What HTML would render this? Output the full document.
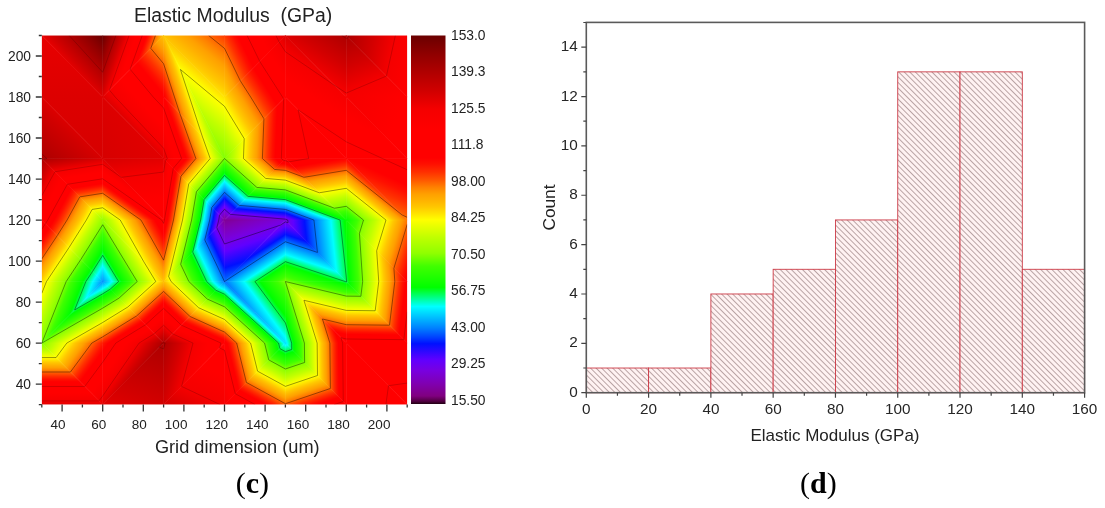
<!DOCTYPE html>
<html><head><meta charset="utf-8"><title>Elastic modulus map and histogram</title><style>html,body{margin:0;padding:0;background:#fff;}body{width:1105px;height:508px;overflow:hidden;}svg{display:block;font-family:"Liberation Sans",sans-serif;will-change:transform;filter:blur(0.4px);}</style></head><body>
<svg width="1105" height="508" viewBox="0 0 1105 508" font-family="Liberation Sans, sans-serif">
<defs><linearGradient id="g0" gradientUnits="userSpaceOnUse" x1="224.50" y1="97.01" x2="254.61" y2="59.95"><stop offset="0.0000" stop-color="#ffe200"/><stop offset="0.1538" stop-color="#ffc800"/><stop offset="0.3497" stop-color="#ffb000"/><stop offset="0.4965" stop-color="#ffa000"/><stop offset="0.6783" stop-color="#ff8000"/><stop offset="0.8601" stop-color="#ff5800"/><stop offset="1.0000" stop-color="#ff3d00"/></linearGradient><linearGradient id="g1" gradientUnits="userSpaceOnUse" x1="224.50" y1="158.53" x2="260.00" y2="116.04"><stop offset="0.0000" stop-color="#7bff00"/><stop offset="0.0684" stop-color="#90ff00"/><stop offset="0.3789" stop-color="#c0ff00"/><stop offset="0.7237" stop-color="#ffff00"/><stop offset="0.7895" stop-color="#fff000"/><stop offset="0.9684" stop-color="#ffc800"/><stop offset="1.0000" stop-color="#ffc300"/></linearGradient><linearGradient id="g2" gradientUnits="userSpaceOnUse" x1="224.50" y1="158.53" x2="187.66" y2="170.58"><stop offset="0.0000" stop-color="#7bff00"/><stop offset="0.0347" stop-color="#90ff00"/><stop offset="0.1920" stop-color="#c0ff00"/><stop offset="0.3667" stop-color="#ffff00"/><stop offset="0.4000" stop-color="#fff000"/><stop offset="0.4907" stop-color="#ffc800"/><stop offset="0.5653" stop-color="#ffb000"/><stop offset="0.6213" stop-color="#ffa000"/><stop offset="0.6907" stop-color="#ff8000"/><stop offset="0.7600" stop-color="#ff5800"/><stop offset="0.8400" stop-color="#ff3000"/><stop offset="0.9200" stop-color="#ff1000"/><stop offset="0.9813" stop-color="#ff0000"/><stop offset="1.0000" stop-color="#ff0000"/></linearGradient><linearGradient id="g3" gradientUnits="userSpaceOnUse" x1="224.50" y1="158.53" x2="170.43" y2="177.74"><stop offset="0.0000" stop-color="#7bff00"/><stop offset="0.0222" stop-color="#90ff00"/><stop offset="0.1231" stop-color="#c0ff00"/><stop offset="0.2350" stop-color="#ffff00"/><stop offset="0.2564" stop-color="#fff000"/><stop offset="0.3145" stop-color="#ffc800"/><stop offset="0.3624" stop-color="#ffb000"/><stop offset="0.3983" stop-color="#ffa000"/><stop offset="0.4427" stop-color="#ff8000"/><stop offset="0.4872" stop-color="#ff5800"/><stop offset="0.5385" stop-color="#ff3000"/><stop offset="0.5897" stop-color="#ff1000"/><stop offset="0.6291" stop-color="#ff0000"/><stop offset="0.8120" stop-color="#ff0000"/><stop offset="0.9402" stop-color="#f50000"/><stop offset="1.0000" stop-color="#e20000"/></linearGradient><linearGradient id="g4" gradientUnits="userSpaceOnUse" x1="41.80" y1="343.08" x2="41.80" y2="404.60"><stop offset="0.0000" stop-color="#7bff00"/><stop offset="0.0222" stop-color="#90ff00"/><stop offset="0.1231" stop-color="#c0ff00"/><stop offset="0.2350" stop-color="#ffff00"/><stop offset="0.2564" stop-color="#fff000"/><stop offset="0.3145" stop-color="#ffc800"/><stop offset="0.3624" stop-color="#ffb000"/><stop offset="0.3983" stop-color="#ffa000"/><stop offset="0.4427" stop-color="#ff8000"/><stop offset="0.4872" stop-color="#ff5800"/><stop offset="0.5385" stop-color="#ff3000"/><stop offset="0.5897" stop-color="#ff1000"/><stop offset="0.6291" stop-color="#ff0000"/><stop offset="0.8120" stop-color="#ff0000"/><stop offset="0.9402" stop-color="#f50000"/><stop offset="1.0000" stop-color="#e20000"/></linearGradient><linearGradient id="g5" gradientUnits="userSpaceOnUse" x1="41.80" y1="343.08" x2="110.60" y2="393.91"><stop offset="0.0000" stop-color="#7bff00"/><stop offset="0.0222" stop-color="#90ff00"/><stop offset="0.1231" stop-color="#c0ff00"/><stop offset="0.2350" stop-color="#ffff00"/><stop offset="0.2564" stop-color="#fff000"/><stop offset="0.3145" stop-color="#ffc800"/><stop offset="0.3624" stop-color="#ffb000"/><stop offset="0.3983" stop-color="#ffa000"/><stop offset="0.4427" stop-color="#ff8000"/><stop offset="0.4872" stop-color="#ff5800"/><stop offset="0.5385" stop-color="#ff3000"/><stop offset="0.5897" stop-color="#ff1000"/><stop offset="0.6291" stop-color="#ff0000"/><stop offset="0.8120" stop-color="#ff0000"/><stop offset="0.9402" stop-color="#f50000"/><stop offset="1.0000" stop-color="#e20000"/></linearGradient><linearGradient id="g6" gradientUnits="userSpaceOnUse" x1="102.70" y1="404.60" x2="130.72" y2="330.63"><stop offset="0.0000" stop-color="#e20000"/><stop offset="0.2727" stop-color="#d20000"/><stop offset="0.9364" stop-color="#b00000"/><stop offset="1.0000" stop-color="#ad0000"/></linearGradient><linearGradient id="g7" gradientUnits="userSpaceOnUse" x1="102.70" y1="343.08" x2="144.06" y2="371.51"><stop offset="0.0000" stop-color="#ff1b00"/><stop offset="0.0278" stop-color="#ff1000"/><stop offset="0.0917" stop-color="#ff0000"/><stop offset="0.3889" stop-color="#ff0000"/><stop offset="0.5972" stop-color="#f50000"/><stop offset="0.7778" stop-color="#d20000"/><stop offset="0.9806" stop-color="#b00000"/><stop offset="1.0000" stop-color="#ad0000"/></linearGradient><linearGradient id="g8" gradientUnits="userSpaceOnUse" x1="224.50" y1="343.08" x2="189.70" y2="416.90"><stop offset="0.0000" stop-color="#ff0000"/><stop offset="0.3636" stop-color="#ff0000"/><stop offset="0.7045" stop-color="#f50000"/><stop offset="1.0000" stop-color="#d20000"/></linearGradient><linearGradient id="g9" gradientUnits="userSpaceOnUse" x1="224.50" y1="343.08" x2="167.57" y2="328.05"><stop offset="0.0000" stop-color="#ff0000"/><stop offset="0.2667" stop-color="#ff0000"/><stop offset="0.5167" stop-color="#f50000"/><stop offset="0.7333" stop-color="#d20000"/><stop offset="0.9767" stop-color="#b00000"/><stop offset="1.0000" stop-color="#ad0000"/></linearGradient><linearGradient id="g10" gradientUnits="userSpaceOnUse" x1="285.40" y1="343.08" x2="245.57" y2="416.09"><stop offset="0.0000" stop-color="#00e1ff"/><stop offset="0.0253" stop-color="#00ffff"/><stop offset="0.0720" stop-color="#00ff80"/><stop offset="0.1200" stop-color="#00ff00"/><stop offset="0.2253" stop-color="#40ff00"/><stop offset="0.2907" stop-color="#90ff00"/><stop offset="0.3693" stop-color="#c0ff00"/><stop offset="0.4567" stop-color="#ffff00"/><stop offset="0.4733" stop-color="#fff000"/><stop offset="0.5187" stop-color="#ffc800"/><stop offset="0.5560" stop-color="#ffb000"/><stop offset="0.5840" stop-color="#ffa000"/><stop offset="0.6187" stop-color="#ff8000"/><stop offset="0.6533" stop-color="#ff5800"/><stop offset="0.6933" stop-color="#ff3000"/><stop offset="0.7333" stop-color="#ff1000"/><stop offset="0.7640" stop-color="#ff0000"/><stop offset="0.9067" stop-color="#ff0000"/><stop offset="1.0000" stop-color="#f60000"/></linearGradient><linearGradient id="g11" gradientUnits="userSpaceOnUse" x1="285.40" y1="343.08" x2="213.67" y2="360.83"><stop offset="0.0000" stop-color="#00e1ff"/><stop offset="0.0253" stop-color="#00ffff"/><stop offset="0.0720" stop-color="#00ff80"/><stop offset="0.1200" stop-color="#00ff00"/><stop offset="0.2253" stop-color="#40ff00"/><stop offset="0.2907" stop-color="#90ff00"/><stop offset="0.3693" stop-color="#c0ff00"/><stop offset="0.4567" stop-color="#ffff00"/><stop offset="0.4733" stop-color="#fff000"/><stop offset="0.5187" stop-color="#ffc800"/><stop offset="0.5560" stop-color="#ffb000"/><stop offset="0.5840" stop-color="#ffa000"/><stop offset="0.6187" stop-color="#ff8000"/><stop offset="0.6533" stop-color="#ff5800"/><stop offset="0.6933" stop-color="#ff3000"/><stop offset="0.7333" stop-color="#ff1000"/><stop offset="0.7640" stop-color="#ff0000"/><stop offset="0.9067" stop-color="#ff0000"/><stop offset="1.0000" stop-color="#f60000"/></linearGradient><linearGradient id="g12" gradientUnits="userSpaceOnUse" x1="285.40" y1="343.08" x2="310.31" y2="416.77"><stop offset="0.0000" stop-color="#00e1ff"/><stop offset="0.0292" stop-color="#00ffff"/><stop offset="0.0831" stop-color="#00ff80"/><stop offset="0.1385" stop-color="#00ff00"/><stop offset="0.2600" stop-color="#40ff00"/><stop offset="0.3354" stop-color="#90ff00"/><stop offset="0.4262" stop-color="#c0ff00"/><stop offset="0.5269" stop-color="#ffff00"/><stop offset="0.5462" stop-color="#fff000"/><stop offset="0.5985" stop-color="#ffc800"/><stop offset="0.6415" stop-color="#ffb000"/><stop offset="0.6738" stop-color="#ffa000"/><stop offset="0.7138" stop-color="#ff8000"/><stop offset="0.7538" stop-color="#ff5800"/><stop offset="0.8000" stop-color="#ff3000"/><stop offset="0.8462" stop-color="#ff1000"/><stop offset="0.8815" stop-color="#ff0000"/><stop offset="1.0000" stop-color="#ff0000"/></linearGradient><linearGradient id="g13" gradientUnits="userSpaceOnUse" x1="285.40" y1="343.08" x2="346.29" y2="342.44"><stop offset="0.0000" stop-color="#00e1ff"/><stop offset="0.0289" stop-color="#00ffff"/><stop offset="0.0822" stop-color="#00ff80"/><stop offset="0.1370" stop-color="#00ff00"/><stop offset="0.2572" stop-color="#40ff00"/><stop offset="0.3318" stop-color="#90ff00"/><stop offset="0.4216" stop-color="#c0ff00"/><stop offset="0.5213" stop-color="#ffff00"/><stop offset="0.5403" stop-color="#fff000"/><stop offset="0.5921" stop-color="#ffc800"/><stop offset="0.6347" stop-color="#ffb000"/><stop offset="0.6667" stop-color="#ffa000"/><stop offset="0.7062" stop-color="#ff8000"/><stop offset="0.7458" stop-color="#ff5800"/><stop offset="0.7915" stop-color="#ff3000"/><stop offset="0.8371" stop-color="#ff1000"/><stop offset="0.8721" stop-color="#ff0000"/><stop offset="1.0000" stop-color="#ff0000"/></linearGradient><linearGradient id="g14" gradientUnits="userSpaceOnUse" x1="407.20" y1="404.60" x2="339.08" y2="395.16"><stop offset="0.0000" stop-color="#ff0000"/><stop offset="1.0000" stop-color="#ff0000"/></linearGradient><linearGradient id="g15" gradientUnits="userSpaceOnUse" x1="407.20" y1="404.60" x2="397.48" y2="335.84"><stop offset="0.0000" stop-color="#ff0000"/><stop offset="1.0000" stop-color="#ff0000"/></linearGradient><linearGradient id="g16" gradientUnits="userSpaceOnUse" x1="102.70" y1="281.56" x2="129.25" y2="327.85"><stop offset="0.0000" stop-color="#0093ff"/><stop offset="0.0492" stop-color="#00c0ff"/><stop offset="0.1169" stop-color="#00ffff"/><stop offset="0.1763" stop-color="#00ff80"/><stop offset="0.2373" stop-color="#00ff00"/><stop offset="0.3712" stop-color="#40ff00"/><stop offset="0.4542" stop-color="#90ff00"/><stop offset="0.5542" stop-color="#c0ff00"/><stop offset="0.6653" stop-color="#ffff00"/><stop offset="0.6864" stop-color="#fff000"/><stop offset="0.7441" stop-color="#ffc800"/><stop offset="0.7915" stop-color="#ffb000"/><stop offset="0.8271" stop-color="#ffa000"/><stop offset="0.8712" stop-color="#ff8000"/><stop offset="0.9153" stop-color="#ff5800"/><stop offset="0.9661" stop-color="#ff3000"/><stop offset="1.0000" stop-color="#ff1b00"/></linearGradient><linearGradient id="g17" gradientUnits="userSpaceOnUse" x1="102.70" y1="281.56" x2="50.05" y2="260.72"><stop offset="0.0000" stop-color="#0093ff"/><stop offset="0.0682" stop-color="#00c0ff"/><stop offset="0.1624" stop-color="#00ffff"/><stop offset="0.2447" stop-color="#00ff80"/><stop offset="0.3294" stop-color="#00ff00"/><stop offset="0.5153" stop-color="#40ff00"/><stop offset="0.6306" stop-color="#90ff00"/><stop offset="0.7694" stop-color="#c0ff00"/><stop offset="0.9235" stop-color="#ffff00"/><stop offset="0.9529" stop-color="#fff000"/><stop offset="1.0000" stop-color="#ffd800"/></linearGradient><linearGradient id="g18" gradientUnits="userSpaceOnUse" x1="102.70" y1="281.56" x2="146.94" y2="353.35"><stop offset="0.0000" stop-color="#0093ff"/><stop offset="0.0305" stop-color="#00c0ff"/><stop offset="0.0726" stop-color="#00ffff"/><stop offset="0.1095" stop-color="#00ff80"/><stop offset="0.1474" stop-color="#00ff00"/><stop offset="0.2305" stop-color="#40ff00"/><stop offset="0.2821" stop-color="#90ff00"/><stop offset="0.3442" stop-color="#c0ff00"/><stop offset="0.4132" stop-color="#ffff00"/><stop offset="0.4263" stop-color="#fff000"/><stop offset="0.4621" stop-color="#ffc800"/><stop offset="0.4916" stop-color="#ffb000"/><stop offset="0.5137" stop-color="#ffa000"/><stop offset="0.5411" stop-color="#ff8000"/><stop offset="0.5684" stop-color="#ff5800"/><stop offset="0.6000" stop-color="#ff3000"/><stop offset="0.6316" stop-color="#ff1000"/><stop offset="0.6558" stop-color="#ff0000"/><stop offset="0.7684" stop-color="#ff0000"/><stop offset="0.8474" stop-color="#f50000"/><stop offset="0.9158" stop-color="#d20000"/><stop offset="0.9926" stop-color="#b00000"/><stop offset="1.0000" stop-color="#ad0000"/></linearGradient><linearGradient id="g19" gradientUnits="userSpaceOnUse" x1="102.70" y1="281.56" x2="160.88" y2="345.56"><stop offset="0.0000" stop-color="#0093ff"/><stop offset="0.0305" stop-color="#00c0ff"/><stop offset="0.0726" stop-color="#00ffff"/><stop offset="0.1095" stop-color="#00ff80"/><stop offset="0.1474" stop-color="#00ff00"/><stop offset="0.2305" stop-color="#40ff00"/><stop offset="0.2821" stop-color="#90ff00"/><stop offset="0.3442" stop-color="#c0ff00"/><stop offset="0.4132" stop-color="#ffff00"/><stop offset="0.4263" stop-color="#fff000"/><stop offset="0.4621" stop-color="#ffc800"/><stop offset="0.4916" stop-color="#ffb000"/><stop offset="0.5137" stop-color="#ffa000"/><stop offset="0.5411" stop-color="#ff8000"/><stop offset="0.5684" stop-color="#ff5800"/><stop offset="0.6000" stop-color="#ff3000"/><stop offset="0.6316" stop-color="#ff1000"/><stop offset="0.6558" stop-color="#ff0000"/><stop offset="0.7684" stop-color="#ff0000"/><stop offset="0.8474" stop-color="#f50000"/><stop offset="0.9158" stop-color="#d20000"/><stop offset="0.9926" stop-color="#b00000"/><stop offset="1.0000" stop-color="#ad0000"/></linearGradient><linearGradient id="g20" gradientUnits="userSpaceOnUse" x1="224.50" y1="281.56" x2="191.06" y2="355.50"><stop offset="0.0000" stop-color="#0071ff"/><stop offset="0.0082" stop-color="#0080ff"/><stop offset="0.0505" stop-color="#00c0ff"/><stop offset="0.0918" stop-color="#00ffff"/><stop offset="0.1278" stop-color="#00ff80"/><stop offset="0.1649" stop-color="#00ff00"/><stop offset="0.2464" stop-color="#40ff00"/><stop offset="0.2969" stop-color="#90ff00"/><stop offset="0.3577" stop-color="#c0ff00"/><stop offset="0.4253" stop-color="#ffff00"/><stop offset="0.4381" stop-color="#fff000"/><stop offset="0.4732" stop-color="#ffc800"/><stop offset="0.5021" stop-color="#ffb000"/><stop offset="0.5237" stop-color="#ffa000"/><stop offset="0.5505" stop-color="#ff8000"/><stop offset="0.5773" stop-color="#ff5800"/><stop offset="0.6082" stop-color="#ff3000"/><stop offset="0.6392" stop-color="#ff1000"/><stop offset="0.6629" stop-color="#ff0000"/><stop offset="0.7732" stop-color="#ff0000"/><stop offset="0.8505" stop-color="#f50000"/><stop offset="0.9175" stop-color="#d20000"/><stop offset="0.9928" stop-color="#b00000"/><stop offset="1.0000" stop-color="#ad0000"/></linearGradient><linearGradient id="g21" gradientUnits="userSpaceOnUse" x1="224.50" y1="281.56" x2="164.91" y2="344.32"><stop offset="0.0000" stop-color="#0071ff"/><stop offset="0.0082" stop-color="#0080ff"/><stop offset="0.0505" stop-color="#00c0ff"/><stop offset="0.0918" stop-color="#00ffff"/><stop offset="0.1278" stop-color="#00ff80"/><stop offset="0.1649" stop-color="#00ff00"/><stop offset="0.2464" stop-color="#40ff00"/><stop offset="0.2969" stop-color="#90ff00"/><stop offset="0.3577" stop-color="#c0ff00"/><stop offset="0.4253" stop-color="#ffff00"/><stop offset="0.4381" stop-color="#fff000"/><stop offset="0.4732" stop-color="#ffc800"/><stop offset="0.5021" stop-color="#ffb000"/><stop offset="0.5237" stop-color="#ffa000"/><stop offset="0.5505" stop-color="#ff8000"/><stop offset="0.5773" stop-color="#ff5800"/><stop offset="0.6082" stop-color="#ff3000"/><stop offset="0.6392" stop-color="#ff1000"/><stop offset="0.6629" stop-color="#ff0000"/><stop offset="0.7732" stop-color="#ff0000"/><stop offset="0.8505" stop-color="#f50000"/><stop offset="0.9175" stop-color="#d20000"/><stop offset="0.9928" stop-color="#b00000"/><stop offset="1.0000" stop-color="#ad0000"/></linearGradient><linearGradient id="g22" gradientUnits="userSpaceOnUse" x1="224.50" y1="281.56" x2="193.89" y2="315.40"><stop offset="0.0000" stop-color="#0071ff"/><stop offset="0.0119" stop-color="#0080ff"/><stop offset="0.0731" stop-color="#00c0ff"/><stop offset="0.1328" stop-color="#00ffff"/><stop offset="0.1851" stop-color="#00ff80"/><stop offset="0.2388" stop-color="#00ff00"/><stop offset="0.3567" stop-color="#40ff00"/><stop offset="0.4299" stop-color="#90ff00"/><stop offset="0.5179" stop-color="#c0ff00"/><stop offset="0.6157" stop-color="#ffff00"/><stop offset="0.6343" stop-color="#fff000"/><stop offset="0.6851" stop-color="#ffc800"/><stop offset="0.7269" stop-color="#ffb000"/><stop offset="0.7582" stop-color="#ffa000"/><stop offset="0.7970" stop-color="#ff8000"/><stop offset="0.8358" stop-color="#ff5800"/><stop offset="0.8806" stop-color="#ff3000"/><stop offset="0.9254" stop-color="#ff1000"/><stop offset="0.9597" stop-color="#ff0000"/><stop offset="1.0000" stop-color="#ff0000"/></linearGradient><linearGradient id="g23" gradientUnits="userSpaceOnUse" x1="224.50" y1="281.56" x2="263.93" y2="252.47"><stop offset="0.0000" stop-color="#0071ff"/><stop offset="0.0291" stop-color="#0080ff"/><stop offset="0.1782" stop-color="#00c0ff"/><stop offset="0.3236" stop-color="#00ffff"/><stop offset="0.4509" stop-color="#00ff80"/><stop offset="0.5818" stop-color="#00ff00"/><stop offset="0.8691" stop-color="#40ff00"/><stop offset="1.0000" stop-color="#7bff00"/></linearGradient><linearGradient id="g24" gradientUnits="userSpaceOnUse" x1="285.40" y1="343.08" x2="341.00" y2="325.91"><stop offset="0.0000" stop-color="#00e1ff"/><stop offset="0.0289" stop-color="#00ffff"/><stop offset="0.0822" stop-color="#00ff80"/><stop offset="0.1370" stop-color="#00ff00"/><stop offset="0.2572" stop-color="#40ff00"/><stop offset="0.3318" stop-color="#90ff00"/><stop offset="0.4216" stop-color="#c0ff00"/><stop offset="0.5213" stop-color="#ffff00"/><stop offset="0.5403" stop-color="#fff000"/><stop offset="0.5921" stop-color="#ffc800"/><stop offset="0.6347" stop-color="#ffb000"/><stop offset="0.6667" stop-color="#ffa000"/><stop offset="0.7062" stop-color="#ff8000"/><stop offset="0.7458" stop-color="#ff5800"/><stop offset="0.7915" stop-color="#ff3000"/><stop offset="0.8371" stop-color="#ff1000"/><stop offset="0.8721" stop-color="#ff0000"/><stop offset="1.0000" stop-color="#ff0000"/></linearGradient><linearGradient id="g25" gradientUnits="userSpaceOnUse" x1="346.30" y1="281.56" x2="332.40" y2="339.76"><stop offset="0.0000" stop-color="#00ff59"/><stop offset="0.0422" stop-color="#00ff00"/><stop offset="0.1757" stop-color="#40ff00"/><stop offset="0.2584" stop-color="#90ff00"/><stop offset="0.3581" stop-color="#c0ff00"/><stop offset="0.4688" stop-color="#ffff00"/><stop offset="0.4899" stop-color="#fff000"/><stop offset="0.5473" stop-color="#ffc800"/><stop offset="0.5946" stop-color="#ffb000"/><stop offset="0.6301" stop-color="#ffa000"/><stop offset="0.6740" stop-color="#ff8000"/><stop offset="0.7179" stop-color="#ff5800"/><stop offset="0.7686" stop-color="#ff3000"/><stop offset="0.8193" stop-color="#ff1000"/><stop offset="0.8581" stop-color="#ff0000"/><stop offset="1.0000" stop-color="#ff0000"/></linearGradient><linearGradient id="g26" gradientUnits="userSpaceOnUse" x1="346.30" y1="281.56" x2="345.57" y2="343.07"><stop offset="0.0000" stop-color="#00ff59"/><stop offset="0.0422" stop-color="#00ff00"/><stop offset="0.1757" stop-color="#40ff00"/><stop offset="0.2584" stop-color="#90ff00"/><stop offset="0.3581" stop-color="#c0ff00"/><stop offset="0.4688" stop-color="#ffff00"/><stop offset="0.4899" stop-color="#fff000"/><stop offset="0.5473" stop-color="#ffc800"/><stop offset="0.5946" stop-color="#ffb000"/><stop offset="0.6301" stop-color="#ffa000"/><stop offset="0.6740" stop-color="#ff8000"/><stop offset="0.7179" stop-color="#ff5800"/><stop offset="0.7686" stop-color="#ff3000"/><stop offset="0.8193" stop-color="#ff1000"/><stop offset="0.8581" stop-color="#ff0000"/><stop offset="1.0000" stop-color="#ff0000"/></linearGradient><linearGradient id="g27" gradientUnits="userSpaceOnUse" x1="346.30" y1="281.56" x2="413.68" y2="289.76"><stop offset="0.0000" stop-color="#00ff59"/><stop offset="0.0427" stop-color="#00ff00"/><stop offset="0.1778" stop-color="#40ff00"/><stop offset="0.2615" stop-color="#90ff00"/><stop offset="0.3624" stop-color="#c0ff00"/><stop offset="0.4744" stop-color="#ffff00"/><stop offset="0.4957" stop-color="#fff000"/><stop offset="0.5538" stop-color="#ffc800"/><stop offset="0.6017" stop-color="#ffb000"/><stop offset="0.6376" stop-color="#ffa000"/><stop offset="0.6821" stop-color="#ff8000"/><stop offset="0.7265" stop-color="#ff5800"/><stop offset="0.7778" stop-color="#ff3000"/><stop offset="0.8291" stop-color="#ff1000"/><stop offset="0.8684" stop-color="#ff0000"/><stop offset="1.0000" stop-color="#ff0000"/></linearGradient><linearGradient id="g28" gradientUnits="userSpaceOnUse" x1="102.70" y1="281.56" x2="32.08" y2="234.68"><stop offset="0.0000" stop-color="#0093ff"/><stop offset="0.0408" stop-color="#00c0ff"/><stop offset="0.0972" stop-color="#00ffff"/><stop offset="0.1465" stop-color="#00ff80"/><stop offset="0.1972" stop-color="#00ff00"/><stop offset="0.3085" stop-color="#40ff00"/><stop offset="0.3775" stop-color="#90ff00"/><stop offset="0.4606" stop-color="#c0ff00"/><stop offset="0.5528" stop-color="#ffff00"/><stop offset="0.5704" stop-color="#fff000"/><stop offset="0.6183" stop-color="#ffc800"/><stop offset="0.6577" stop-color="#ffb000"/><stop offset="0.6873" stop-color="#ffa000"/><stop offset="0.7239" stop-color="#ff8000"/><stop offset="0.7606" stop-color="#ff5800"/><stop offset="0.8028" stop-color="#ff3000"/><stop offset="0.8451" stop-color="#ff1000"/><stop offset="0.8775" stop-color="#ff0000"/><stop offset="1.0000" stop-color="#ff0000"/></linearGradient><linearGradient id="g29" gradientUnits="userSpaceOnUse" x1="102.70" y1="281.56" x2="31.35" y2="236.65"><stop offset="0.0000" stop-color="#0093ff"/><stop offset="0.0408" stop-color="#00c0ff"/><stop offset="0.0972" stop-color="#00ffff"/><stop offset="0.1465" stop-color="#00ff80"/><stop offset="0.1972" stop-color="#00ff00"/><stop offset="0.3085" stop-color="#40ff00"/><stop offset="0.3775" stop-color="#90ff00"/><stop offset="0.4606" stop-color="#c0ff00"/><stop offset="0.5528" stop-color="#ffff00"/><stop offset="0.5704" stop-color="#fff000"/><stop offset="0.6183" stop-color="#ffc800"/><stop offset="0.6577" stop-color="#ffb000"/><stop offset="0.6873" stop-color="#ffa000"/><stop offset="0.7239" stop-color="#ff8000"/><stop offset="0.7606" stop-color="#ff5800"/><stop offset="0.8028" stop-color="#ff3000"/><stop offset="0.8451" stop-color="#ff1000"/><stop offset="0.8775" stop-color="#ff0000"/><stop offset="1.0000" stop-color="#ff0000"/></linearGradient><linearGradient id="g30" gradientUnits="userSpaceOnUse" x1="102.70" y1="281.56" x2="147.20" y2="254.55"><stop offset="0.0000" stop-color="#0093ff"/><stop offset="0.0644" stop-color="#00c0ff"/><stop offset="0.1533" stop-color="#00ffff"/><stop offset="0.2311" stop-color="#00ff80"/><stop offset="0.3111" stop-color="#00ff00"/><stop offset="0.4867" stop-color="#40ff00"/><stop offset="0.5956" stop-color="#90ff00"/><stop offset="0.7267" stop-color="#c0ff00"/><stop offset="0.8722" stop-color="#ffff00"/><stop offset="0.9000" stop-color="#fff000"/><stop offset="0.9756" stop-color="#ffc800"/><stop offset="1.0000" stop-color="#ffbf00"/></linearGradient><linearGradient id="g31" gradientUnits="userSpaceOnUse" x1="102.70" y1="220.05" x2="148.92" y2="194.00"><stop offset="0.0000" stop-color="#97ff00"/><stop offset="0.1262" stop-color="#c0ff00"/><stop offset="0.2884" stop-color="#ffff00"/><stop offset="0.3193" stop-color="#fff000"/><stop offset="0.4035" stop-color="#ffc800"/><stop offset="0.4728" stop-color="#ffb000"/><stop offset="0.5248" stop-color="#ffa000"/><stop offset="0.5891" stop-color="#ff8000"/><stop offset="0.6535" stop-color="#ff5800"/><stop offset="0.7277" stop-color="#ff3000"/><stop offset="0.8020" stop-color="#ff1000"/><stop offset="0.8589" stop-color="#ff0000"/><stop offset="1.0000" stop-color="#ff0000"/></linearGradient><linearGradient id="g32" gradientUnits="userSpaceOnUse" x1="224.50" y1="220.05" x2="150.96" y2="254.90"><stop offset="0.0000" stop-color="#800095"/><stop offset="0.0360" stop-color="#8000b0"/><stop offset="0.1079" stop-color="#7800e0"/><stop offset="0.1655" stop-color="#6000ff"/><stop offset="0.2518" stop-color="#0010ff"/><stop offset="0.2849" stop-color="#0040ff"/><stop offset="0.3353" stop-color="#0080ff"/><stop offset="0.3942" stop-color="#00c0ff"/><stop offset="0.4518" stop-color="#00ffff"/><stop offset="0.5022" stop-color="#00ff80"/><stop offset="0.5540" stop-color="#00ff00"/><stop offset="0.6676" stop-color="#40ff00"/><stop offset="0.7381" stop-color="#90ff00"/><stop offset="0.8230" stop-color="#c0ff00"/><stop offset="0.9173" stop-color="#ffff00"/><stop offset="0.9353" stop-color="#fff000"/><stop offset="0.9842" stop-color="#ffc800"/><stop offset="1.0000" stop-color="#ffbf00"/></linearGradient><linearGradient id="g33" gradientUnits="userSpaceOnUse" x1="224.50" y1="220.05" x2="167.08" y2="205.91"><stop offset="0.0000" stop-color="#800095"/><stop offset="0.0270" stop-color="#8000b0"/><stop offset="0.0811" stop-color="#7800e0"/><stop offset="0.1243" stop-color="#6000ff"/><stop offset="0.1892" stop-color="#0010ff"/><stop offset="0.2141" stop-color="#0040ff"/><stop offset="0.2519" stop-color="#0080ff"/><stop offset="0.2962" stop-color="#00c0ff"/><stop offset="0.3395" stop-color="#00ffff"/><stop offset="0.3773" stop-color="#00ff80"/><stop offset="0.4162" stop-color="#00ff00"/><stop offset="0.5016" stop-color="#40ff00"/><stop offset="0.5546" stop-color="#90ff00"/><stop offset="0.6184" stop-color="#c0ff00"/><stop offset="0.6892" stop-color="#ffff00"/><stop offset="0.7027" stop-color="#fff000"/><stop offset="0.7395" stop-color="#ffc800"/><stop offset="0.7697" stop-color="#ffb000"/><stop offset="0.7924" stop-color="#ffa000"/><stop offset="0.8205" stop-color="#ff8000"/><stop offset="0.8486" stop-color="#ff5800"/><stop offset="0.8811" stop-color="#ff3000"/><stop offset="0.9135" stop-color="#ff1000"/><stop offset="0.9384" stop-color="#ff0000"/><stop offset="1.0000" stop-color="#ff0000"/></linearGradient><linearGradient id="g34" gradientUnits="userSpaceOnUse" x1="285.40" y1="220.05" x2="313.57" y2="263.15"><stop offset="0.0000" stop-color="#7800e0"/><stop offset="0.0941" stop-color="#6000ff"/><stop offset="0.2353" stop-color="#0010ff"/><stop offset="0.2894" stop-color="#0040ff"/><stop offset="0.3718" stop-color="#0080ff"/><stop offset="0.4682" stop-color="#00c0ff"/><stop offset="0.5624" stop-color="#00ffff"/><stop offset="0.6447" stop-color="#00ff80"/><stop offset="0.7294" stop-color="#00ff00"/><stop offset="0.9153" stop-color="#40ff00"/><stop offset="1.0000" stop-color="#7bff00"/></linearGradient><linearGradient id="g35" gradientUnits="userSpaceOnUse" x1="224.50" y1="220.05" x2="243.10" y2="275.30"><stop offset="0.0000" stop-color="#800095"/><stop offset="0.1111" stop-color="#8000b0"/><stop offset="0.3333" stop-color="#7800e0"/><stop offset="0.5111" stop-color="#6000ff"/><stop offset="0.7778" stop-color="#0010ff"/><stop offset="0.8800" stop-color="#0040ff"/><stop offset="1.0000" stop-color="#0071ff"/></linearGradient><linearGradient id="g36" gradientUnits="userSpaceOnUse" x1="285.40" y1="220.05" x2="266.97" y2="275.43"><stop offset="0.0000" stop-color="#7800e0"/><stop offset="0.0941" stop-color="#6000ff"/><stop offset="0.2353" stop-color="#0010ff"/><stop offset="0.2894" stop-color="#0040ff"/><stop offset="0.3718" stop-color="#0080ff"/><stop offset="0.4682" stop-color="#00c0ff"/><stop offset="0.5624" stop-color="#00ffff"/><stop offset="0.6447" stop-color="#00ff80"/><stop offset="0.7294" stop-color="#00ff00"/><stop offset="0.9153" stop-color="#40ff00"/><stop offset="1.0000" stop-color="#7bff00"/></linearGradient><linearGradient id="g37" gradientUnits="userSpaceOnUse" x1="285.40" y1="220.05" x2="345.59" y2="213.53"><stop offset="0.0000" stop-color="#7800e0"/><stop offset="0.1250" stop-color="#6000ff"/><stop offset="0.3125" stop-color="#0010ff"/><stop offset="0.3844" stop-color="#0040ff"/><stop offset="0.4937" stop-color="#0080ff"/><stop offset="0.6219" stop-color="#00c0ff"/><stop offset="0.7469" stop-color="#00ffff"/><stop offset="0.8562" stop-color="#00ff80"/><stop offset="0.9688" stop-color="#00ff00"/><stop offset="1.0000" stop-color="#08ff00"/></linearGradient><linearGradient id="g38" gradientUnits="userSpaceOnUse" x1="346.30" y1="281.56" x2="406.93" y2="277.53"><stop offset="0.0000" stop-color="#00ff59"/><stop offset="0.0480" stop-color="#00ff00"/><stop offset="0.1996" stop-color="#40ff00"/><stop offset="0.2937" stop-color="#90ff00"/><stop offset="0.4069" stop-color="#c0ff00"/><stop offset="0.5326" stop-color="#ffff00"/><stop offset="0.5566" stop-color="#fff000"/><stop offset="0.6219" stop-color="#ffc800"/><stop offset="0.6756" stop-color="#ffb000"/><stop offset="0.7159" stop-color="#ffa000"/><stop offset="0.7658" stop-color="#ff8000"/><stop offset="0.8157" stop-color="#ff5800"/><stop offset="0.8733" stop-color="#ff3000"/><stop offset="0.9309" stop-color="#ff1000"/><stop offset="0.9750" stop-color="#ff0000"/><stop offset="1.0000" stop-color="#ff0000"/></linearGradient><linearGradient id="g39" gradientUnits="userSpaceOnUse" x1="346.30" y1="220.05" x2="419.16" y2="242.15"><stop offset="0.0000" stop-color="#08ff00"/><stop offset="0.1420" stop-color="#40ff00"/><stop offset="0.2428" stop-color="#90ff00"/><stop offset="0.3642" stop-color="#c0ff00"/><stop offset="0.4990" stop-color="#ffff00"/><stop offset="0.5247" stop-color="#fff000"/><stop offset="0.5947" stop-color="#ffc800"/><stop offset="0.6523" stop-color="#ffb000"/><stop offset="0.6955" stop-color="#ffa000"/><stop offset="0.7490" stop-color="#ff8000"/><stop offset="0.8025" stop-color="#ff5800"/><stop offset="0.8642" stop-color="#ff3000"/><stop offset="0.9259" stop-color="#ff1000"/><stop offset="0.9733" stop-color="#ff0000"/><stop offset="1.0000" stop-color="#ff0000"/></linearGradient><linearGradient id="g40" gradientUnits="userSpaceOnUse" x1="102.70" y1="220.05" x2="29.93" y2="180.21"><stop offset="0.0000" stop-color="#97ff00"/><stop offset="0.0757" stop-color="#c0ff00"/><stop offset="0.1728" stop-color="#ffff00"/><stop offset="0.1914" stop-color="#fff000"/><stop offset="0.2418" stop-color="#ffc800"/><stop offset="0.2834" stop-color="#ffb000"/><stop offset="0.3145" stop-color="#ffa000"/><stop offset="0.3531" stop-color="#ff8000"/><stop offset="0.3917" stop-color="#ff5800"/><stop offset="0.4362" stop-color="#ff3000"/><stop offset="0.4807" stop-color="#ff1000"/><stop offset="0.5148" stop-color="#ff0000"/><stop offset="0.6736" stop-color="#ff0000"/><stop offset="0.7849" stop-color="#f50000"/><stop offset="0.8813" stop-color="#d20000"/><stop offset="0.9896" stop-color="#b00000"/><stop offset="1.0000" stop-color="#ad0000"/></linearGradient><linearGradient id="g41" gradientUnits="userSpaceOnUse" x1="102.70" y1="220.05" x2="91.91" y2="150.73"><stop offset="0.0000" stop-color="#97ff00"/><stop offset="0.0757" stop-color="#c0ff00"/><stop offset="0.1728" stop-color="#ffff00"/><stop offset="0.1914" stop-color="#fff000"/><stop offset="0.2418" stop-color="#ffc800"/><stop offset="0.2834" stop-color="#ffb000"/><stop offset="0.3145" stop-color="#ffa000"/><stop offset="0.3531" stop-color="#ff8000"/><stop offset="0.3917" stop-color="#ff5800"/><stop offset="0.4362" stop-color="#ff3000"/><stop offset="0.4807" stop-color="#ff1000"/><stop offset="0.5148" stop-color="#ff0000"/><stop offset="0.6736" stop-color="#ff0000"/><stop offset="0.7849" stop-color="#f50000"/><stop offset="0.8813" stop-color="#d20000"/><stop offset="0.9896" stop-color="#b00000"/><stop offset="1.0000" stop-color="#ad0000"/></linearGradient><linearGradient id="g42" gradientUnits="userSpaceOnUse" x1="102.70" y1="220.05" x2="131.58" y2="178.71"><stop offset="0.0000" stop-color="#97ff00"/><stop offset="0.0873" stop-color="#c0ff00"/><stop offset="0.1995" stop-color="#ffff00"/><stop offset="0.2209" stop-color="#fff000"/><stop offset="0.2791" stop-color="#ffc800"/><stop offset="0.3271" stop-color="#ffb000"/><stop offset="0.3630" stop-color="#ffa000"/><stop offset="0.4075" stop-color="#ff8000"/><stop offset="0.4521" stop-color="#ff5800"/><stop offset="0.5034" stop-color="#ff3000"/><stop offset="0.5548" stop-color="#ff1000"/><stop offset="0.5942" stop-color="#ff0000"/><stop offset="0.7774" stop-color="#ff0000"/><stop offset="0.9058" stop-color="#f50000"/><stop offset="1.0000" stop-color="#d70000"/></linearGradient><linearGradient id="g43" gradientUnits="userSpaceOnUse" x1="163.60" y1="220.05" x2="155.00" y2="151.92"><stop offset="0.0000" stop-color="#ff0000"/><stop offset="0.2778" stop-color="#ff0000"/><stop offset="0.6944" stop-color="#f50000"/><stop offset="1.0000" stop-color="#d70000"/></linearGradient><linearGradient id="g44" gradientUnits="userSpaceOnUse" x1="224.50" y1="220.05" x2="155.10" y2="208.16"><stop offset="0.0000" stop-color="#800095"/><stop offset="0.0230" stop-color="#8000b0"/><stop offset="0.0691" stop-color="#7800e0"/><stop offset="0.1060" stop-color="#6000ff"/><stop offset="0.1613" stop-color="#0010ff"/><stop offset="0.1825" stop-color="#0040ff"/><stop offset="0.2147" stop-color="#0080ff"/><stop offset="0.2525" stop-color="#00c0ff"/><stop offset="0.2894" stop-color="#00ffff"/><stop offset="0.3217" stop-color="#00ff80"/><stop offset="0.3548" stop-color="#00ff00"/><stop offset="0.4276" stop-color="#40ff00"/><stop offset="0.4728" stop-color="#90ff00"/><stop offset="0.5272" stop-color="#c0ff00"/><stop offset="0.5876" stop-color="#ffff00"/><stop offset="0.5991" stop-color="#fff000"/><stop offset="0.6304" stop-color="#ffc800"/><stop offset="0.6562" stop-color="#ffb000"/><stop offset="0.6756" stop-color="#ffa000"/><stop offset="0.6995" stop-color="#ff8000"/><stop offset="0.7235" stop-color="#ff5800"/><stop offset="0.7512" stop-color="#ff3000"/><stop offset="0.7788" stop-color="#ff1000"/><stop offset="0.8000" stop-color="#ff0000"/><stop offset="0.8986" stop-color="#ff0000"/><stop offset="0.9677" stop-color="#f50000"/><stop offset="1.0000" stop-color="#e20000"/></linearGradient><linearGradient id="g45" gradientUnits="userSpaceOnUse" x1="224.50" y1="220.05" x2="158.67" y2="164.35"><stop offset="0.0000" stop-color="#800095"/><stop offset="0.0230" stop-color="#8000b0"/><stop offset="0.0691" stop-color="#7800e0"/><stop offset="0.1060" stop-color="#6000ff"/><stop offset="0.1613" stop-color="#0010ff"/><stop offset="0.1825" stop-color="#0040ff"/><stop offset="0.2147" stop-color="#0080ff"/><stop offset="0.2525" stop-color="#00c0ff"/><stop offset="0.2894" stop-color="#00ffff"/><stop offset="0.3217" stop-color="#00ff80"/><stop offset="0.3548" stop-color="#00ff00"/><stop offset="0.4276" stop-color="#40ff00"/><stop offset="0.4728" stop-color="#90ff00"/><stop offset="0.5272" stop-color="#c0ff00"/><stop offset="0.5876" stop-color="#ffff00"/><stop offset="0.5991" stop-color="#fff000"/><stop offset="0.6304" stop-color="#ffc800"/><stop offset="0.6562" stop-color="#ffb000"/><stop offset="0.6756" stop-color="#ffa000"/><stop offset="0.6995" stop-color="#ff8000"/><stop offset="0.7235" stop-color="#ff5800"/><stop offset="0.7512" stop-color="#ff3000"/><stop offset="0.7788" stop-color="#ff1000"/><stop offset="0.8000" stop-color="#ff0000"/><stop offset="0.8986" stop-color="#ff0000"/><stop offset="0.9677" stop-color="#f50000"/><stop offset="1.0000" stop-color="#e20000"/></linearGradient><linearGradient id="g46" gradientUnits="userSpaceOnUse" x1="224.50" y1="220.05" x2="230.30" y2="153.71"><stop offset="0.0000" stop-color="#800095"/><stop offset="0.0265" stop-color="#8000b0"/><stop offset="0.0796" stop-color="#7800e0"/><stop offset="0.1221" stop-color="#6000ff"/><stop offset="0.1858" stop-color="#0010ff"/><stop offset="0.2102" stop-color="#0040ff"/><stop offset="0.2473" stop-color="#0080ff"/><stop offset="0.2909" stop-color="#00c0ff"/><stop offset="0.3333" stop-color="#00ffff"/><stop offset="0.3705" stop-color="#00ff80"/><stop offset="0.4087" stop-color="#00ff00"/><stop offset="0.4926" stop-color="#40ff00"/><stop offset="0.5446" stop-color="#90ff00"/><stop offset="0.6072" stop-color="#c0ff00"/><stop offset="0.6768" stop-color="#ffff00"/><stop offset="0.6900" stop-color="#fff000"/><stop offset="0.7261" stop-color="#ffc800"/><stop offset="0.7558" stop-color="#ffb000"/><stop offset="0.7781" stop-color="#ffa000"/><stop offset="0.8057" stop-color="#ff8000"/><stop offset="0.8333" stop-color="#ff5800"/><stop offset="0.8652" stop-color="#ff3000"/><stop offset="0.8970" stop-color="#ff1000"/><stop offset="0.9214" stop-color="#ff0000"/><stop offset="1.0000" stop-color="#ff0000"/></linearGradient><linearGradient id="g47" gradientUnits="userSpaceOnUse" x1="224.50" y1="220.05" x2="282.08" y2="155.56"><stop offset="0.0000" stop-color="#800095"/><stop offset="0.0265" stop-color="#8000b0"/><stop offset="0.0796" stop-color="#7800e0"/><stop offset="0.1221" stop-color="#6000ff"/><stop offset="0.1858" stop-color="#0010ff"/><stop offset="0.2102" stop-color="#0040ff"/><stop offset="0.2473" stop-color="#0080ff"/><stop offset="0.2909" stop-color="#00c0ff"/><stop offset="0.3333" stop-color="#00ffff"/><stop offset="0.3705" stop-color="#00ff80"/><stop offset="0.4087" stop-color="#00ff00"/><stop offset="0.4926" stop-color="#40ff00"/><stop offset="0.5446" stop-color="#90ff00"/><stop offset="0.6072" stop-color="#c0ff00"/><stop offset="0.6768" stop-color="#ffff00"/><stop offset="0.6900" stop-color="#fff000"/><stop offset="0.7261" stop-color="#ffc800"/><stop offset="0.7558" stop-color="#ffb000"/><stop offset="0.7781" stop-color="#ffa000"/><stop offset="0.8057" stop-color="#ff8000"/><stop offset="0.8333" stop-color="#ff5800"/><stop offset="0.8652" stop-color="#ff3000"/><stop offset="0.8970" stop-color="#ff1000"/><stop offset="0.9214" stop-color="#ff0000"/><stop offset="1.0000" stop-color="#ff0000"/></linearGradient><linearGradient id="g48" gradientUnits="userSpaceOnUse" x1="285.40" y1="220.05" x2="305.54" y2="166.04"><stop offset="0.0000" stop-color="#7800e0"/><stop offset="0.0461" stop-color="#6000ff"/><stop offset="0.1153" stop-color="#0010ff"/><stop offset="0.1419" stop-color="#0040ff"/><stop offset="0.1822" stop-color="#0080ff"/><stop offset="0.2295" stop-color="#00c0ff"/><stop offset="0.2757" stop-color="#00ffff"/><stop offset="0.3160" stop-color="#00ff80"/><stop offset="0.3576" stop-color="#00ff00"/><stop offset="0.4487" stop-color="#40ff00"/><stop offset="0.5052" stop-color="#90ff00"/><stop offset="0.5732" stop-color="#c0ff00"/><stop offset="0.6488" stop-color="#ffff00"/><stop offset="0.6632" stop-color="#fff000"/><stop offset="0.7024" stop-color="#ffc800"/><stop offset="0.7347" stop-color="#ffb000"/><stop offset="0.7589" stop-color="#ffa000"/><stop offset="0.7889" stop-color="#ff8000"/><stop offset="0.8189" stop-color="#ff5800"/><stop offset="0.8535" stop-color="#ff3000"/><stop offset="0.8881" stop-color="#ff1000"/><stop offset="0.9146" stop-color="#ff0000"/><stop offset="1.0000" stop-color="#ff0000"/></linearGradient><linearGradient id="g49" gradientUnits="userSpaceOnUse" x1="346.30" y1="220.05" x2="334.77" y2="150.36"><stop offset="0.0000" stop-color="#08ff00"/><stop offset="0.1261" stop-color="#40ff00"/><stop offset="0.2157" stop-color="#90ff00"/><stop offset="0.3236" stop-color="#c0ff00"/><stop offset="0.4433" stop-color="#ffff00"/><stop offset="0.4662" stop-color="#fff000"/><stop offset="0.5283" stop-color="#ffc800"/><stop offset="0.5795" stop-color="#ffb000"/><stop offset="0.6179" stop-color="#ffa000"/><stop offset="0.6654" stop-color="#ff8000"/><stop offset="0.7130" stop-color="#ff5800"/><stop offset="0.7678" stop-color="#ff3000"/><stop offset="0.8227" stop-color="#ff1000"/><stop offset="0.8647" stop-color="#ff0000"/><stop offset="1.0000" stop-color="#ff0000"/></linearGradient><linearGradient id="g50" gradientUnits="userSpaceOnUse" x1="346.30" y1="220.05" x2="376.30" y2="182.52"><stop offset="0.0000" stop-color="#08ff00"/><stop offset="0.1468" stop-color="#40ff00"/><stop offset="0.2511" stop-color="#90ff00"/><stop offset="0.3766" stop-color="#c0ff00"/><stop offset="0.5160" stop-color="#ffff00"/><stop offset="0.5426" stop-color="#fff000"/><stop offset="0.6149" stop-color="#ffc800"/><stop offset="0.6745" stop-color="#ffb000"/><stop offset="0.7191" stop-color="#ffa000"/><stop offset="0.7745" stop-color="#ff8000"/><stop offset="0.8298" stop-color="#ff5800"/><stop offset="0.8936" stop-color="#ff3000"/><stop offset="0.9574" stop-color="#ff1000"/><stop offset="1.0000" stop-color="#ff0200"/></linearGradient><linearGradient id="g51" gradientUnits="userSpaceOnUse" x1="407.20" y1="220.05" x2="430.36" y2="169.04"><stop offset="0.0000" stop-color="#ff7400"/><stop offset="0.1011" stop-color="#ff5800"/><stop offset="0.2697" stop-color="#ff3000"/><stop offset="0.4382" stop-color="#ff1000"/><stop offset="0.5674" stop-color="#ff0000"/><stop offset="1.0000" stop-color="#ff0000"/></linearGradient><linearGradient id="g52" gradientUnits="userSpaceOnUse" x1="41.80" y1="97.01" x2="11.18" y2="130.69"><stop offset="0.0000" stop-color="#dd0000"/><stop offset="0.2000" stop-color="#d20000"/><stop offset="0.9300" stop-color="#b00000"/><stop offset="1.0000" stop-color="#ad0000"/></linearGradient><linearGradient id="g53" gradientUnits="userSpaceOnUse" x1="102.70" y1="97.01" x2="102.70" y2="158.53"><stop offset="0.0000" stop-color="#dd0000"/><stop offset="1.0000" stop-color="#d70000"/></linearGradient><linearGradient id="g54" gradientUnits="userSpaceOnUse" x1="163.60" y1="158.53" x2="114.68" y2="182.74"><stop offset="0.0000" stop-color="#e20000"/><stop offset="1.0000" stop-color="#d70000"/></linearGradient><linearGradient id="g55" gradientUnits="userSpaceOnUse" x1="163.60" y1="97.01" x2="131.43" y2="127.41"><stop offset="0.0000" stop-color="#ff0000"/><stop offset="0.4545" stop-color="#ff0000"/><stop offset="0.7955" stop-color="#f50000"/><stop offset="1.0000" stop-color="#dd0000"/></linearGradient><linearGradient id="g56" gradientUnits="userSpaceOnUse" x1="224.50" y1="158.53" x2="285.31" y2="160.84"><stop offset="0.0000" stop-color="#7bff00"/><stop offset="0.0294" stop-color="#90ff00"/><stop offset="0.1629" stop-color="#c0ff00"/><stop offset="0.3111" stop-color="#ffff00"/><stop offset="0.3394" stop-color="#fff000"/><stop offset="0.4163" stop-color="#ffc800"/><stop offset="0.4796" stop-color="#ffb000"/><stop offset="0.5271" stop-color="#ffa000"/><stop offset="0.5860" stop-color="#ff8000"/><stop offset="0.6448" stop-color="#ff5800"/><stop offset="0.7127" stop-color="#ff3000"/><stop offset="0.7805" stop-color="#ff1000"/><stop offset="0.8326" stop-color="#ff0000"/><stop offset="1.0000" stop-color="#ff0000"/></linearGradient><linearGradient id="g57" gradientUnits="userSpaceOnUse" x1="224.50" y1="158.53" x2="296.24" y2="114.78"><stop offset="0.0000" stop-color="#7bff00"/><stop offset="0.0306" stop-color="#90ff00"/><stop offset="0.1694" stop-color="#c0ff00"/><stop offset="0.3235" stop-color="#ffff00"/><stop offset="0.3529" stop-color="#fff000"/><stop offset="0.4329" stop-color="#ffc800"/><stop offset="0.4988" stop-color="#ffb000"/><stop offset="0.5482" stop-color="#ffa000"/><stop offset="0.6094" stop-color="#ff8000"/><stop offset="0.6706" stop-color="#ff5800"/><stop offset="0.7412" stop-color="#ff3000"/><stop offset="0.8118" stop-color="#ff1000"/><stop offset="0.8659" stop-color="#ff0000"/><stop offset="1.0000" stop-color="#ff0000"/></linearGradient><linearGradient id="g58" gradientUnits="userSpaceOnUse" x1="346.30" y1="158.53" x2="288.18" y2="171.23"><stop offset="0.0000" stop-color="#ff0200"/><stop offset="0.0390" stop-color="#ff0000"/><stop offset="1.0000" stop-color="#ff0000"/></linearGradient><linearGradient id="g59" gradientUnits="userSpaceOnUse" x1="346.30" y1="158.53" x2="374.65" y2="115.83"><stop offset="0.0000" stop-color="#ff0200"/><stop offset="0.0171" stop-color="#ff0000"/><stop offset="0.6286" stop-color="#ff0000"/><stop offset="1.0000" stop-color="#f60000"/></linearGradient><linearGradient id="g60" gradientUnits="userSpaceOnUse" x1="346.30" y1="158.53" x2="369.71" y2="107.82"><stop offset="0.0000" stop-color="#ff0200"/><stop offset="0.0171" stop-color="#ff0000"/><stop offset="0.6286" stop-color="#ff0000"/><stop offset="1.0000" stop-color="#f60000"/></linearGradient><linearGradient id="g61" gradientUnits="userSpaceOnUse" x1="407.20" y1="158.53" x2="333.56" y2="124.88"><stop offset="0.0000" stop-color="#ff0000"/><stop offset="0.3158" stop-color="#ff0000"/><stop offset="1.0000" stop-color="#f60000"/></linearGradient><linearGradient id="g62" gradientUnits="userSpaceOnUse" x1="41.80" y1="35.49" x2="41.80" y2="97.01"><stop offset="0.0000" stop-color="#e80000"/><stop offset="1.0000" stop-color="#dd0000"/></linearGradient><linearGradient id="g63" gradientUnits="userSpaceOnUse" x1="41.80" y1="35.49" x2="75.09" y2="5.17"><stop offset="0.0000" stop-color="#e80000"/><stop offset="0.1600" stop-color="#d20000"/><stop offset="0.4520" stop-color="#b00000"/><stop offset="0.7200" stop-color="#900000"/><stop offset="1.0000" stop-color="#6a0000"/></linearGradient><linearGradient id="g64" gradientUnits="userSpaceOnUse" x1="163.60" y1="35.49" x2="97.38" y2="90.62"><stop offset="0.0000" stop-color="#ffc300"/><stop offset="0.0543" stop-color="#ffb000"/><stop offset="0.1062" stop-color="#ffa000"/><stop offset="0.1704" stop-color="#ff8000"/><stop offset="0.2346" stop-color="#ff5800"/><stop offset="0.3086" stop-color="#ff3000"/><stop offset="0.3827" stop-color="#ff1000"/><stop offset="0.4395" stop-color="#ff0000"/><stop offset="0.7037" stop-color="#ff0000"/><stop offset="0.8889" stop-color="#f50000"/><stop offset="1.0000" stop-color="#dd0000"/></linearGradient><linearGradient id="g65" gradientUnits="userSpaceOnUse" x1="163.60" y1="35.49" x2="109.64" y2="16.14"><stop offset="0.0000" stop-color="#ffc300"/><stop offset="0.0346" stop-color="#ffb000"/><stop offset="0.0677" stop-color="#ffa000"/><stop offset="0.1087" stop-color="#ff8000"/><stop offset="0.1496" stop-color="#ff5800"/><stop offset="0.1969" stop-color="#ff3000"/><stop offset="0.2441" stop-color="#ff1000"/><stop offset="0.2803" stop-color="#ff0000"/><stop offset="0.4488" stop-color="#ff0000"/><stop offset="0.5669" stop-color="#f50000"/><stop offset="0.6693" stop-color="#d20000"/><stop offset="0.7843" stop-color="#b00000"/><stop offset="0.8898" stop-color="#900000"/><stop offset="1.0000" stop-color="#6a0000"/></linearGradient><linearGradient id="g66" gradientUnits="userSpaceOnUse" x1="224.50" y1="97.01" x2="295.64" y2="51.49"><stop offset="0.0000" stop-color="#ffe200"/><stop offset="0.0508" stop-color="#ffc800"/><stop offset="0.1155" stop-color="#ffb000"/><stop offset="0.1640" stop-color="#ffa000"/><stop offset="0.2240" stop-color="#ff8000"/><stop offset="0.2841" stop-color="#ff5800"/><stop offset="0.3533" stop-color="#ff3000"/><stop offset="0.4226" stop-color="#ff1000"/><stop offset="0.4758" stop-color="#ff0000"/><stop offset="0.7229" stop-color="#ff0000"/><stop offset="0.8961" stop-color="#f50000"/><stop offset="1.0000" stop-color="#dd0000"/></linearGradient><linearGradient id="g67" gradientUnits="userSpaceOnUse" x1="224.50" y1="97.01" x2="297.93" y2="61.16"><stop offset="0.0000" stop-color="#ffe200"/><stop offset="0.0508" stop-color="#ffc800"/><stop offset="0.1155" stop-color="#ffb000"/><stop offset="0.1640" stop-color="#ffa000"/><stop offset="0.2240" stop-color="#ff8000"/><stop offset="0.2841" stop-color="#ff5800"/><stop offset="0.3533" stop-color="#ff3000"/><stop offset="0.4226" stop-color="#ff1000"/><stop offset="0.4758" stop-color="#ff0000"/><stop offset="0.7229" stop-color="#ff0000"/><stop offset="0.8961" stop-color="#f50000"/><stop offset="1.0000" stop-color="#dd0000"/></linearGradient><linearGradient id="g68" gradientUnits="userSpaceOnUse" x1="285.40" y1="97.01" x2="314.06" y2="55.07"><stop offset="0.0000" stop-color="#ff0000"/><stop offset="0.2941" stop-color="#ff0000"/><stop offset="0.7353" stop-color="#f50000"/><stop offset="1.0000" stop-color="#dd0000"/></linearGradient><linearGradient id="g69" gradientUnits="userSpaceOnUse" x1="346.30" y1="97.01" x2="374.44" y2="53.83"><stop offset="0.0000" stop-color="#f60000"/><stop offset="0.0645" stop-color="#f50000"/><stop offset="0.4839" stop-color="#d20000"/><stop offset="0.9548" stop-color="#b00000"/><stop offset="1.0000" stop-color="#ad0000"/></linearGradient><linearGradient id="g70" gradientUnits="userSpaceOnUse" x1="407.20" y1="97.01" x2="375.84" y2="22.98"><stop offset="0.0000" stop-color="#ff0000"/><stop offset="0.3409" stop-color="#f50000"/><stop offset="0.6364" stop-color="#d20000"/><stop offset="0.9682" stop-color="#b00000"/><stop offset="1.0000" stop-color="#ad0000"/></linearGradient><linearGradient id="g71" gradientUnits="userSpaceOnUse" x1="407.20" y1="97.01" x2="336.20" y2="81.39"><stop offset="0.0000" stop-color="#ff0000"/><stop offset="0.3409" stop-color="#f50000"/><stop offset="0.6364" stop-color="#d20000"/><stop offset="0.9682" stop-color="#b00000"/><stop offset="1.0000" stop-color="#ad0000"/></linearGradient><linearGradient id="cb" x1="0" y1="0" x2="0" y2="1"><stop offset="0.0000" stop-color="#6a0000"/><stop offset="0.0509" stop-color="#900000"/><stop offset="0.0996" stop-color="#b00000"/><stop offset="0.1527" stop-color="#d20000"/><stop offset="0.2000" stop-color="#f50000"/><stop offset="0.2545" stop-color="#ff0000"/><stop offset="0.3324" stop-color="#ff0000"/><stop offset="0.3491" stop-color="#ff1000"/><stop offset="0.3709" stop-color="#ff3000"/><stop offset="0.3927" stop-color="#ff5800"/><stop offset="0.4116" stop-color="#ff8000"/><stop offset="0.4305" stop-color="#ffa000"/><stop offset="0.4458" stop-color="#ffb000"/><stop offset="0.4662" stop-color="#ffc800"/><stop offset="0.4909" stop-color="#fff000"/><stop offset="0.5000" stop-color="#ffff00"/><stop offset="0.5476" stop-color="#c0ff00"/><stop offset="0.5905" stop-color="#90ff00"/><stop offset="0.6262" stop-color="#40ff00"/><stop offset="0.6836" stop-color="#00ff00"/><stop offset="0.7098" stop-color="#00ff80"/><stop offset="0.7353" stop-color="#00ffff"/><stop offset="0.7644" stop-color="#00c0ff"/><stop offset="0.7942" stop-color="#0080ff"/><stop offset="0.8196" stop-color="#0040ff"/><stop offset="0.8364" stop-color="#0010ff"/><stop offset="0.8800" stop-color="#6000ff"/><stop offset="0.9091" stop-color="#7800e0"/><stop offset="0.9455" stop-color="#8000b0"/><stop offset="0.9782" stop-color="#800080"/><stop offset="0.9927" stop-color="#500040"/><stop offset="1.0000" stop-color="#200010"/></linearGradient><pattern id="hatch" patternUnits="userSpaceOnUse" width="3.92" height="3.92" patternTransform="rotate(-45)"><rect width="3.92" height="3.92" fill="#fff2f2"/><line x1="0.5" y1="0" x2="0.5" y2="3.92" stroke="#8c7072" stroke-width="0.6"/></pattern><clipPath id="pc"><rect x="41.80" y="35.49" width="365.40" height="369.11"/></clipPath></defs>
<rect width="1105" height="508" fill="#fff"/>
<g clip-path="url(#pc)"><polygon points="163.60,35.49 224.50,35.49 224.50,97.01" fill="url(#g0)" stroke="url(#g0)" stroke-width="0.6"/><polygon points="163.60,35.49 224.50,97.01 224.50,158.53" fill="url(#g1)" stroke="url(#g1)" stroke-width="0.6"/><polygon points="163.60,35.49 224.50,158.53 163.60,97.01" fill="url(#g2)" stroke="url(#g2)" stroke-width="0.6"/><polygon points="163.60,97.01 224.50,158.53 163.60,158.53" fill="url(#g3)" stroke="url(#g3)" stroke-width="0.6"/><polygon points="41.80,404.60 102.70,404.60 41.80,343.08" fill="url(#g4)" stroke="url(#g4)" stroke-width="0.6"/><polygon points="102.70,404.60 102.70,343.08 41.80,343.08" fill="url(#g5)" stroke="url(#g5)" stroke-width="0.6"/><polygon points="102.70,404.60 163.60,404.60 163.60,343.08" fill="url(#g6)" stroke="url(#g6)" stroke-width="0.6"/><polygon points="102.70,404.60 163.60,343.08 102.70,343.08" fill="url(#g7)" stroke="url(#g7)" stroke-width="0.6"/><polygon points="163.60,404.60 224.50,404.60 224.50,343.08" fill="url(#g8)" stroke="url(#g8)" stroke-width="0.6"/><polygon points="163.60,404.60 224.50,343.08 163.60,343.08" fill="url(#g9)" stroke="url(#g9)" stroke-width="0.6"/><polygon points="224.50,404.60 285.40,404.60 285.40,343.08" fill="url(#g10)" stroke="url(#g10)" stroke-width="0.6"/><polygon points="224.50,404.60 285.40,343.08 224.50,343.08" fill="url(#g11)" stroke="url(#g11)" stroke-width="0.6"/><polygon points="285.40,404.60 346.30,404.60 285.40,343.08" fill="url(#g12)" stroke="url(#g12)" stroke-width="0.6"/><polygon points="346.30,404.60 346.30,343.08 285.40,343.08" fill="url(#g13)" stroke="url(#g13)" stroke-width="0.6"/><polygon points="346.30,404.60 407.20,404.60 346.30,343.08" fill="url(#g14)" stroke="url(#g14)" stroke-width="0.6"/><polygon points="407.20,404.60 407.20,343.08 346.30,343.08" fill="url(#g15)" stroke="url(#g15)" stroke-width="0.6"/><polygon points="41.80,343.08 102.70,343.08 102.70,281.56" fill="url(#g16)" stroke="url(#g16)" stroke-width="0.6"/><polygon points="41.80,343.08 102.70,281.56 41.80,281.56" fill="url(#g17)" stroke="url(#g17)" stroke-width="0.6"/><polygon points="102.70,343.08 163.60,343.08 102.70,281.56" fill="url(#g18)" stroke="url(#g18)" stroke-width="0.6"/><polygon points="163.60,343.08 163.60,281.56 102.70,281.56" fill="url(#g19)" stroke="url(#g19)" stroke-width="0.6"/><polygon points="163.60,343.08 224.50,343.08 224.50,281.56" fill="url(#g20)" stroke="url(#g20)" stroke-width="0.6"/><polygon points="163.60,343.08 224.50,281.56 163.60,281.56" fill="url(#g21)" stroke="url(#g21)" stroke-width="0.6"/><polygon points="224.50,343.08 285.40,343.08 224.50,281.56" fill="url(#g22)" stroke="url(#g22)" stroke-width="0.6"/><polygon points="285.40,343.08 285.40,281.56 224.50,281.56" fill="url(#g23)" stroke="url(#g23)" stroke-width="0.6"/><polygon points="285.40,343.08 346.30,343.08 285.40,281.56" fill="url(#g24)" stroke="url(#g24)" stroke-width="0.6"/><polygon points="346.30,343.08 346.30,281.56 285.40,281.56" fill="url(#g25)" stroke="url(#g25)" stroke-width="0.6"/><polygon points="346.30,343.08 407.20,343.08 346.30,281.56" fill="url(#g26)" stroke="url(#g26)" stroke-width="0.6"/><polygon points="407.20,343.08 407.20,281.56 346.30,281.56" fill="url(#g27)" stroke="url(#g27)" stroke-width="0.6"/><polygon points="41.80,281.56 102.70,281.56 41.80,220.05" fill="url(#g28)" stroke="url(#g28)" stroke-width="0.6"/><polygon points="102.70,281.56 102.70,220.05 41.80,220.05" fill="url(#g29)" stroke="url(#g29)" stroke-width="0.6"/><polygon points="102.70,281.56 163.60,281.56 102.70,220.05" fill="url(#g30)" stroke="url(#g30)" stroke-width="0.6"/><polygon points="163.60,281.56 163.60,220.05 102.70,220.05" fill="url(#g31)" stroke="url(#g31)" stroke-width="0.6"/><polygon points="163.60,281.56 224.50,281.56 224.50,220.05" fill="url(#g32)" stroke="url(#g32)" stroke-width="0.6"/><polygon points="163.60,281.56 224.50,220.05 163.60,220.05" fill="url(#g33)" stroke="url(#g33)" stroke-width="0.6"/><polygon points="224.50,281.56 285.40,281.56 285.40,220.05" fill="url(#g34)" stroke="url(#g34)" stroke-width="0.6"/><polygon points="224.50,281.56 285.40,220.05 224.50,220.05" fill="url(#g35)" stroke="url(#g35)" stroke-width="0.6"/><polygon points="285.40,281.56 346.30,281.56 285.40,220.05" fill="url(#g36)" stroke="url(#g36)" stroke-width="0.6"/><polygon points="346.30,281.56 346.30,220.05 285.40,220.05" fill="url(#g37)" stroke="url(#g37)" stroke-width="0.6"/><polygon points="346.30,281.56 407.20,281.56 346.30,220.05" fill="url(#g38)" stroke="url(#g38)" stroke-width="0.6"/><polygon points="407.20,281.56 407.20,220.05 346.30,220.05" fill="url(#g39)" stroke="url(#g39)" stroke-width="0.6"/><polygon points="41.80,220.05 102.70,220.05 41.80,158.53" fill="url(#g40)" stroke="url(#g40)" stroke-width="0.6"/><polygon points="102.70,220.05 102.70,158.53 41.80,158.53" fill="url(#g41)" stroke="url(#g41)" stroke-width="0.6"/><polygon points="102.70,220.05 163.60,220.05 102.70,158.53" fill="url(#g42)" stroke="url(#g42)" stroke-width="0.6"/><polygon points="163.60,220.05 163.60,158.53 102.70,158.53" fill="url(#g43)" stroke="url(#g43)" stroke-width="0.6"/><polygon points="163.60,220.05 224.50,220.05 163.60,158.53" fill="url(#g44)" stroke="url(#g44)" stroke-width="0.6"/><polygon points="224.50,220.05 224.50,158.53 163.60,158.53" fill="url(#g45)" stroke="url(#g45)" stroke-width="0.6"/><polygon points="224.50,220.05 285.40,220.05 285.40,158.53" fill="url(#g46)" stroke="url(#g46)" stroke-width="0.6"/><polygon points="224.50,220.05 285.40,158.53 224.50,158.53" fill="url(#g47)" stroke="url(#g47)" stroke-width="0.6"/><polygon points="285.40,220.05 346.30,220.05 285.40,158.53" fill="url(#g48)" stroke="url(#g48)" stroke-width="0.6"/><polygon points="346.30,220.05 346.30,158.53 285.40,158.53" fill="url(#g49)" stroke="url(#g49)" stroke-width="0.6"/><polygon points="346.30,220.05 407.20,220.05 346.30,158.53" fill="url(#g50)" stroke="url(#g50)" stroke-width="0.6"/><polygon points="407.20,220.05 407.20,158.53 346.30,158.53" fill="url(#g51)" stroke="url(#g51)" stroke-width="0.6"/><polygon points="41.80,158.53 102.70,158.53 41.80,97.01" fill="url(#g52)" stroke="url(#g52)" stroke-width="0.6"/><polygon points="102.70,158.53 102.70,97.01 41.80,97.01" fill="url(#g53)" stroke="url(#g53)" stroke-width="0.6"/><polygon points="102.70,158.53 163.60,158.53 102.70,97.01" fill="url(#g54)" stroke="url(#g54)" stroke-width="0.6"/><polygon points="163.60,158.53 163.60,97.01 102.70,97.01" fill="url(#g55)" stroke="url(#g55)" stroke-width="0.6"/><polygon points="224.50,158.53 285.40,158.53 285.40,97.01" fill="url(#g56)" stroke="url(#g56)" stroke-width="0.6"/><polygon points="224.50,158.53 285.40,97.01 224.50,97.01" fill="url(#g57)" stroke="url(#g57)" stroke-width="0.6"/><polygon points="285.40,158.53 346.30,158.53 285.40,97.01" fill="url(#g58)" stroke="url(#g58)" stroke-width="0.6"/><polygon points="346.30,158.53 346.30,97.01 285.40,97.01" fill="url(#g59)" stroke="url(#g59)" stroke-width="0.6"/><polygon points="346.30,158.53 407.20,158.53 346.30,97.01" fill="url(#g60)" stroke="url(#g60)" stroke-width="0.6"/><polygon points="407.20,158.53 407.20,97.01 346.30,97.01" fill="url(#g61)" stroke="url(#g61)" stroke-width="0.6"/><polygon points="41.80,97.01 102.70,97.01 41.80,35.49" fill="url(#g62)" stroke="url(#g62)" stroke-width="0.6"/><polygon points="102.70,97.01 102.70,35.49 41.80,35.49" fill="url(#g63)" stroke="url(#g63)" stroke-width="0.6"/><polygon points="102.70,97.01 163.60,97.01 163.60,35.49" fill="url(#g64)" stroke="url(#g64)" stroke-width="0.6"/><polygon points="102.70,97.01 163.60,35.49 102.70,35.49" fill="url(#g65)" stroke="url(#g65)" stroke-width="0.6"/><polygon points="224.50,97.01 285.40,97.01 285.40,35.49" fill="url(#g66)" stroke="url(#g66)" stroke-width="0.6"/><polygon points="224.50,97.01 285.40,35.49 224.50,35.49" fill="url(#g67)" stroke="url(#g67)" stroke-width="0.6"/><polygon points="285.40,97.01 346.30,97.01 285.40,35.49" fill="url(#g68)" stroke="url(#g68)" stroke-width="0.6"/><polygon points="346.30,97.01 346.30,35.49 285.40,35.49" fill="url(#g69)" stroke="url(#g69)" stroke-width="0.6"/><polygon points="346.30,97.01 407.20,97.01 346.30,35.49" fill="url(#g70)" stroke="url(#g70)" stroke-width="0.6"/><polygon points="407.20,97.01 407.20,35.49 346.30,35.49" fill="url(#g71)" stroke="url(#g71)" stroke-width="0.6"/></g>
<path d="M208.61 35.49L224.50 48.40M224.50 106.31L180.43 69.49M180.43 69.49L202.17 135.97M179.84 113.41L163.60 63.76M202.17 135.97L210.19 158.53M179.84 113.41L195.87 158.53M56.11 357.54L41.80 357.54M70.43 372.00L41.80 372.00M66.80 343.08L56.11 357.54M91.79 343.08L70.43 372.00M285.40 351.61L279.92 348.62M285.40 368.98L268.75 359.90M285.40 386.35L257.59 371.18M285.40 403.72L246.42 382.45M279.92 348.62L278.55 343.08M268.75 359.90L264.59 343.08M257.59 371.18L250.64 343.08M246.42 382.45L236.68 343.08M291.72 349.47L285.40 351.61M304.61 362.48L285.40 368.98M317.49 375.50L285.40 386.35M330.37 388.51L285.40 403.72M291.66 343.08L291.72 349.47M304.40 343.08L304.61 362.48M317.15 343.08L317.49 375.50M329.89 343.08L330.37 388.51M102.70 293.82L74.64 309.91M41.80 343.08L102.70 308.15M66.80 343.08L102.70 322.49M91.79 343.08L102.70 336.83M74.64 309.91L85.86 281.56M41.80 343.08L66.16 281.56M46.46 281.56L41.80 293.32M110.23 289.17L102.70 293.82M119.05 298.08L102.70 308.15M127.86 306.98L102.70 322.49M136.68 315.88L102.70 336.83M118.60 281.56L110.23 289.17M137.21 281.56L119.05 298.08M155.82 281.56L127.86 306.98M163.60 291.41L136.68 315.88M224.50 294.19L215.87 290.28M224.50 306.81L207.23 299.00M224.50 319.44L198.60 307.73M224.50 332.06L189.97 316.45M215.87 290.28L206.68 281.56M207.23 299.00L188.87 281.56M198.60 307.73L171.05 281.56M189.97 316.45L163.60 291.41M278.55 343.08L224.50 294.19M264.59 343.08L224.50 306.81M250.64 343.08L224.50 319.44M236.68 343.08L224.50 332.06M285.40 322.83L254.95 281.56M291.66 343.08L285.40 322.83M304.40 343.08L285.40 281.56M317.15 343.08L303.93 300.28M329.89 343.08L322.45 318.99M346.30 281.82L345.21 281.56M346.30 296.11L285.40 281.56M346.30 310.40L303.93 300.28M346.30 324.69L322.45 318.99M346.56 281.83L346.30 281.82M360.87 296.29L346.30 296.11M375.19 310.75L346.30 310.40M389.50 325.20L346.30 324.69M346.59 281.56L346.56 281.83M362.66 281.56L360.87 296.29M378.74 281.56L375.19 310.75M394.81 281.56L389.50 325.20M85.86 281.56L92.62 271.38M66.16 281.56L80.83 259.47M46.46 281.56L69.03 247.56M57.24 235.64L41.80 258.90M102.70 255.37L92.62 271.38M102.70 224.73L80.83 259.47M86.35 220.05L69.03 247.56M67.06 220.05L57.24 235.64M118.60 281.56L102.70 255.37M137.21 281.56L102.70 224.73M155.82 281.56L143.47 261.23M120.26 220.05L143.47 261.23M163.60 260.17L140.99 220.05M224.50 243.97L216.83 227.79M224.50 281.56L204.78 239.96M206.68 281.56L192.74 252.13M188.87 281.56L180.69 264.30M171.05 281.56L168.64 276.47M216.83 227.79L218.74 220.05M204.78 239.96L209.69 220.05M192.74 252.13L200.63 220.05M180.69 264.30L191.58 220.05M168.64 276.47L182.53 220.05M173.48 220.05L163.60 260.17M285.40 221.86L280.32 225.17M224.50 281.56L285.40 241.76M254.95 281.56L285.40 261.66M280.32 225.17L224.50 243.97M288.07 222.74L285.40 221.86M317.45 252.42L285.40 241.76M345.21 281.56L285.40 261.66M287.78 220.05L288.07 222.74M313.95 220.05L317.45 252.42M346.30 277.17L340.11 220.05M346.59 281.56L346.30 277.17M362.66 281.56L359.46 233.34M378.74 281.56L376.69 250.74M394.81 281.56L393.92 268.15M363.49 220.05L359.46 233.34M386.00 220.05L376.69 250.74M407.20 224.36L393.92 268.15M86.35 220.05L92.17 209.41M67.06 220.05L79.75 196.86M102.70 207.77L92.17 209.41M102.70 193.29L79.75 196.86M120.26 220.05L102.70 207.77M140.99 220.05L102.70 193.29M218.74 220.05L219.59 215.08M209.69 220.05L211.87 207.29M200.63 220.05L204.15 199.49M191.58 220.05L196.44 191.70M182.53 220.05L188.72 183.90M173.48 220.05L181.00 176.10M224.50 209.28L219.59 215.08M224.50 192.36L211.87 207.29M224.50 175.45L204.15 199.49M224.50 158.53L196.44 191.70M210.19 158.53L188.72 183.90M195.87 158.53L181.00 176.10M285.40 219.16L230.16 214.33M285.40 209.40L239.05 205.35M285.40 199.65L247.94 196.37M285.40 189.89L256.82 187.39M285.40 180.13L265.71 178.41M285.40 170.38L274.60 169.43M230.16 214.33L224.50 209.28M239.05 205.35L224.50 192.36M247.94 196.37L224.50 175.45M256.82 187.39L224.50 158.53M265.71 178.41L243.45 158.53M274.60 169.43L262.39 158.53M287.78 220.05L285.40 219.16M313.95 220.05L285.40 209.40M340.11 220.05L285.40 199.65M334.61 208.24L285.40 189.89M319.30 192.77L285.40 180.13M303.99 177.31L285.40 170.38M346.30 206.30L334.61 208.24M346.30 188.31L319.30 192.77M346.30 170.31L303.99 177.31M363.49 220.05L346.30 206.30M386.00 220.05L346.30 188.31M402.23 215.02L346.30 170.31M407.20 217.28L402.23 215.02M243.45 158.53L244.20 138.63M262.39 158.53L263.91 118.72M244.20 138.63L224.50 106.31M263.91 118.72L250.67 97.01M163.60 63.76L150.82 48.40M150.82 48.40L155.45 35.49M250.67 97.01L240.39 80.96M240.39 80.96L224.50 48.40" stroke="#000" stroke-opacity="0.45" stroke-width="0.9" fill="none" clip-path="url(#pc)"/>
<path d="M181.56 158.53L163.60 108.00M167.24 158.53L163.60 148.27M84.74 386.46L41.80 386.46M99.06 400.92L41.80 400.92M102.70 362.15L84.74 386.46M102.70 395.99L99.06 400.92M163.60 348.85L159.45 347.28M115.81 343.08L102.70 362.15M139.07 343.08L102.70 395.99M159.45 347.28L162.33 343.08M224.50 350.26L219.66 347.98M220.15 404.60L181.59 386.42M219.66 347.98L220.95 343.08M181.59 386.42L193.03 343.08M165.12 343.08L163.60 348.85M255.18 404.60L235.26 393.73M235.26 393.73L224.50 350.26M334.16 404.60L343.25 401.52M342.64 343.08L343.25 401.52M385.88 404.60L388.50 385.71M407.20 383.07L388.50 385.71M115.81 343.08L145.49 324.79M139.07 343.08L154.30 333.69M162.33 343.08L163.12 342.60M163.60 308.32L145.49 324.79M163.60 325.24L154.30 333.69M163.60 342.16L163.12 342.60M220.95 343.08L181.34 325.17M193.03 343.08L172.70 333.89M165.12 343.08L164.07 342.61M181.34 325.17L163.60 308.32M172.70 333.89L163.60 325.24M164.07 342.61L163.60 342.16M342.64 343.08L340.98 337.71M346.30 338.98L340.98 337.71M403.82 339.66L346.30 338.98M407.20 311.84L403.82 339.66M45.45 223.73L41.80 229.22M47.76 220.05L45.45 223.73M163.60 223.39L161.72 220.05M164.42 220.05L163.60 223.39M47.76 220.05L67.33 184.31M54.90 171.76L41.80 195.70M42.48 159.21L41.80 160.45M102.70 178.81L67.33 184.31M102.70 164.32L54.90 171.76M46.88 158.53L42.48 159.21M161.72 220.05L102.70 178.81M121.31 177.33L102.70 164.32M163.60 171.99L121.31 177.33M164.42 220.05L173.28 168.31M165.56 160.51L163.60 171.99M181.56 158.53L173.28 168.31M167.24 158.53L165.56 160.51M285.40 160.62L283.49 160.45M283.49 160.45L281.34 158.53M288.68 161.85L285.40 160.62M308.73 158.53L288.68 161.85M407.20 169.76L382.46 158.53M46.88 158.53L41.80 153.91M163.60 108.00L153.22 97.01M163.60 148.27L115.16 97.01M281.34 158.53L283.61 98.82M283.61 98.82L282.51 97.01M308.73 158.53L298.09 109.83M346.30 141.83L298.09 109.83M382.46 158.53L346.30 141.83M102.70 72.27L69.20 35.49M153.22 97.01L130.14 69.29M115.16 97.01L109.47 90.17M130.14 69.29L142.26 35.49M109.47 90.17L129.07 35.49M115.89 35.49L102.70 72.27M282.51 97.01L259.73 61.42M285.40 51.78L279.07 41.89M259.73 61.42L247.07 35.49M279.07 41.89L275.95 35.49M335.23 85.82L285.40 51.78M346.30 93.04L335.23 85.82M346.30 38.47L341.73 35.49M386.44 76.04L346.30 93.04M348.38 37.59L346.30 38.47M395.36 35.49L386.44 76.04M348.84 35.49L348.38 37.59" stroke="#000" stroke-opacity="0.2" stroke-width="0.9" fill="none" clip-path="url(#pc)"/>
<rect x="411.0" y="35.5" width="34.5" height="368.5" fill="url(#cb)"/>
<g font-size="13.8" fill="#222"><text x="451.0" y="39.6">153.0</text><text x="451.0" y="76.1">139.3</text><text x="451.0" y="112.7">125.5</text><text x="451.0" y="149.2">111.8</text><text x="451.0" y="185.7">98.00</text><text x="451.0" y="222.2">84.25</text><text x="451.0" y="258.8">70.50</text><text x="451.0" y="295.3">56.75</text><text x="451.0" y="331.8">43.00</text><text x="451.0" y="368.4">29.25</text><text x="451.0" y="404.9">15.50</text></g>
<g font-size="13.8" fill="#222"><path d="M38.80 404.60H41.80M35.80 384.09H41.80M38.80 363.59H41.80M35.80 343.08H41.80M38.80 322.58H41.80M35.80 302.07H41.80M38.80 281.56H41.80M35.80 261.06H41.80M38.80 240.55H41.80M35.80 220.05H41.80M38.80 199.54H41.80M35.80 179.03H41.80M38.80 158.53H41.80M35.80 138.02H41.80M38.80 117.52H41.80M35.80 97.01H41.80M38.80 76.50H41.80M35.80 56.00H41.80M38.80 35.49H41.80M41.80 404.60V407.60M62.10 404.60V411.60M82.40 404.60V407.60M102.70 404.60V411.60M123.00 404.60V407.60M143.30 404.60V411.60M163.60 404.60V407.60M183.90 404.60V411.60M204.20 404.60V407.60M224.50 404.60V411.60M244.80 404.60V407.60M265.10 404.60V411.60M285.40 404.60V407.60M305.70 404.60V411.60M326.00 404.60V407.60M346.30 404.60V411.60M366.60 404.60V407.60M386.90 404.60V411.60M407.20 404.60V407.60" stroke="#333" stroke-width="1.3" fill="none"/><text x="31.0" y="389.1" text-anchor="end">40</text><text x="31.0" y="348.1" text-anchor="end">60</text><text x="31.0" y="307.1" text-anchor="end">80</text><text x="31.0" y="266.1" text-anchor="end">100</text><text x="31.0" y="225.0" text-anchor="end">120</text><text x="31.0" y="184.0" text-anchor="end">140</text><text x="31.0" y="143.0" text-anchor="end">160</text><text x="31.0" y="102.0" text-anchor="end">180</text><text x="31.0" y="61.0" text-anchor="end">200</text><text x="65.6" y="428.6" text-anchor="end" font-size="13.5">40</text><text x="106.2" y="428.6" text-anchor="end" font-size="13.5">60</text><text x="146.8" y="428.6" text-anchor="end" font-size="13.5">80</text><text x="187.4" y="428.6" text-anchor="end" font-size="13.5">100</text><text x="228.0" y="428.6" text-anchor="end" font-size="13.5">120</text><text x="268.6" y="428.6" text-anchor="end" font-size="13.5">140</text><text x="309.2" y="428.6" text-anchor="end" font-size="13.5">160</text><text x="349.8" y="428.6" text-anchor="end" font-size="13.5">180</text><text x="390.4" y="428.6" text-anchor="end" font-size="13.5">200</text></g>
<text x="134.0" y="21.8" font-size="19.4" fill="#222" xml:space="preserve">Elastic Modulus  (GPa)</text>
<text x="154.9" y="452.5" font-size="18.2" fill="#222">Grid dimension (um)</text>
<text x="235.7" y="493.3" font-family="Liberation Serif, serif" font-size="30" fill="#000">(<tspan font-weight="bold">c</tspan>)</text>
<text x="800.0" y="492.6" font-family="Liberation Serif, serif" font-size="30" fill="#000">(<tspan font-weight="bold">d</tspan>)</text>
<rect x="586.30" y="368.02" width="62.29" height="24.68" fill="url(#hatch)" stroke="#cc3a46" stroke-width="0.9"/>
<rect x="648.59" y="368.02" width="62.29" height="24.68" fill="url(#hatch)" stroke="#cc3a46" stroke-width="0.9"/>
<rect x="710.88" y="293.98" width="62.29" height="98.72" fill="url(#hatch)" stroke="#cc3a46" stroke-width="0.9"/>
<rect x="773.16" y="269.30" width="62.29" height="123.40" fill="url(#hatch)" stroke="#cc3a46" stroke-width="0.9"/>
<rect x="835.45" y="219.94" width="62.29" height="172.76" fill="url(#hatch)" stroke="#cc3a46" stroke-width="0.9"/>
<rect x="897.74" y="71.86" width="62.29" height="320.84" fill="url(#hatch)" stroke="#cc3a46" stroke-width="0.9"/>
<rect x="960.02" y="71.86" width="62.29" height="320.84" fill="url(#hatch)" stroke="#cc3a46" stroke-width="0.9"/>
<rect x="1022.31" y="269.30" width="62.29" height="123.40" fill="url(#hatch)" stroke="#cc3a46" stroke-width="0.9"/>
<rect x="586.30" y="22.40" width="498.30" height="370.30" fill="none" stroke="#5a5a5a" stroke-width="1.6"/>
<path d="M581.30 392.70H586.30M583.30 368.02H586.30M581.30 343.34H586.30M583.30 318.66H586.30M581.30 293.98H586.30M583.30 269.30H586.30M581.30 244.62H586.30M583.30 219.94H586.30M581.30 195.26H586.30M583.30 170.58H586.30M581.30 145.90H586.30M583.30 121.22H586.30M581.30 96.54H586.30M583.30 71.86H586.30M581.30 47.18H586.30M583.30 22.50H586.30M586.30 392.70V397.70M617.44 392.70V395.70M648.59 392.70V397.70M679.73 392.70V395.70M710.88 392.70V397.70M742.02 392.70V395.70M773.16 392.70V397.70M804.31 392.70V395.70M835.45 392.70V397.70M866.59 392.70V395.70M897.74 392.70V397.70M928.88 392.70V395.70M960.02 392.70V397.70M991.17 392.70V395.70M1022.31 392.70V397.70M1053.46 392.70V395.70M1084.60 392.70V397.70" stroke="#444" stroke-width="1.2" fill="none"/>
<g font-size="15.3" fill="#262626"><text x="577.8" y="396.7" text-anchor="end">0</text><text x="577.8" y="347.3" text-anchor="end">2</text><text x="577.8" y="298.0" text-anchor="end">4</text><text x="577.8" y="248.6" text-anchor="end">6</text><text x="577.8" y="199.3" text-anchor="end">8</text><text x="577.8" y="149.9" text-anchor="end">10</text><text x="577.8" y="100.5" text-anchor="end">12</text><text x="577.8" y="51.2" text-anchor="end">14</text><text x="586.3" y="414.2" text-anchor="middle">0</text><text x="648.6" y="414.2" text-anchor="middle">20</text><text x="710.9" y="414.2" text-anchor="middle">40</text><text x="773.2" y="414.2" text-anchor="middle">60</text><text x="835.4" y="414.2" text-anchor="middle">80</text><text x="897.7" y="414.2" text-anchor="middle">100</text><text x="960.0" y="414.2" text-anchor="middle">120</text><text x="1022.3" y="414.2" text-anchor="middle">140</text><text x="1084.6" y="414.2" text-anchor="middle">160</text></g>
<text x="750.4" y="441.0" font-size="17" fill="#222">Elastic Modulus (GPa)</text>
<text transform="translate(554.6 230.6) rotate(-90)" font-size="17.3" fill="#222">Count</text>
</svg>
</body></html>
